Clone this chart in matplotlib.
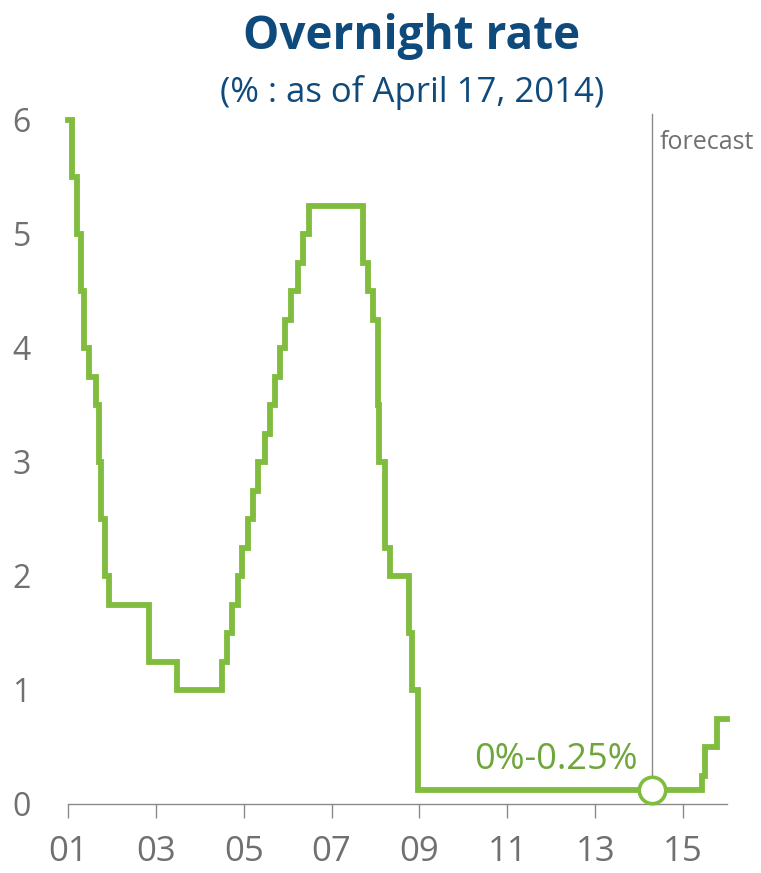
import matplotlib
matplotlib.use('Agg')
import matplotlib.pyplot as plt
import pandas as pd

# Policy rate changes (effective date, level in %), then forecast steps
change_dates = ['2001-01-01', '2001-01-31', '2001-03-20', '2001-04-18', '2001-05-15',
                '2001-06-27', '2001-08-21', '2001-09-17', '2001-10-02', '2001-11-06',
                '2001-12-11', '2002-11-06', '2003-06-25', '2004-06-30', '2004-08-10',
                '2004-09-21', '2004-11-10', '2004-12-14', '2005-02-02', '2005-03-22',
                '2005-05-03', '2005-06-30', '2005-08-09', '2005-09-20', '2005-11-01',
                '2005-12-13', '2006-01-31', '2006-03-28', '2006-05-10', '2006-06-29',
                '2007-09-18', '2007-10-31', '2007-12-11', '2008-01-22', '2008-01-30',
                '2008-03-18', '2008-04-30', '2008-10-08', '2008-10-29', '2008-12-16',
                '2015-06-05', '2015-07-01', '2015-10-07', '2015-12-31']
rate_levels = [6.0, 5.5, 5.0, 4.5, 4.0,
               3.75, 3.5, 3.0, 2.5, 2.0,
               1.75, 1.25, 1.0, 1.25, 1.5,
               1.75, 2.0, 2.25, 2.5, 2.75,
               3.0, 3.25, 3.5, 3.75, 4.0,
               4.25, 4.5, 4.75, 5.0, 5.25,
               4.75, 4.5, 4.25, 3.5, 3.0,
               2.25, 2.0, 1.5, 1.0, 0.125,
               0.25, 0.5, 0.75, 0.75]

forecast_start = '2014-04-17'
zero_band_mid = 0.125
year_ticks = [2001, 2003, 2005, 2007, 2009, 2011, 2013, 2015]
year_labels = ['01', '03', '05', '07', '09', '11', '13', '15']


def to_decimal_year(s):
    d = pd.Timestamp(s)
    return d.year + (d.dayofyear - 1) / 365.25


x = [to_decimal_year(d) for d in change_dates]
x_fc = to_decimal_year(forecast_start)

green = '#80bd3e'
navy = '#0f4a7c'
grey = '#707070'

plt.rcParams['font.family'] = ['Open Sans', 'DejaVu Sans']

fig = plt.figure(figsize=(7.61, 8.73), dpi=100)
ax = fig.add_axes([68 / 761, 69 / 873, 659 / 761, 684 / 873])

ax.step(x, rate_levels, where='post', color=green, lw=4.2, clip_on=False,
        solid_joinstyle='miter', zorder=3)

# forecast divider and marker
ax.plot([x_fc, x_fc], [0, 6.05], color='#8a8a8a', lw=1.0, clip_on=False, zorder=2)
ax.text(x_fc + 0.18, 5.8, 'forecast', color=grey, fontsize=18, ha='left', va='center')
ax.plot([x_fc], [zero_band_mid], 'o', ms=19, mfc='white', mec=green, mew=2.6,
        clip_on=False, zorder=4)
ax.text(x_fc - 0.33, zero_band_mid + 0.1, '0%-0.25%', color='#6fa63a', fontsize=26,
        ha='right', va='bottom')

ax.set_xlim(2001, 2016)
ax.set_ylim(0, 6)
ax.set_xticks(year_ticks)
ax.set_xticklabels(year_labels)
ax.set_yticks(range(0, 7))

for s in ['top', 'right', 'left']:
    ax.spines[s].set_visible(False)
ax.spines['bottom'].set_color('#8a8a8a')
ax.spines['bottom'].set_linewidth(1.0)

ax.tick_params(axis='x', length=10, width=1.0, color='#8a8a8a', direction='out',
               labelsize=25, labelcolor=grey, pad=12)
ax.tick_params(axis='y', length=0, labelsize=23, labelcolor=grey, pad=40)
for lbl in ax.get_yticklabels():
    lbl.set_horizontalalignment('left')

fig.text(412 / 761, 1 - 37 / 873, 'Overnight rate', color=navy, fontsize=33,
         fontweight='bold', ha='center', va='center')
fig.text(412 / 761, 1 - 92 / 873, '(% : as of April 17, 2014)', color=navy,
         fontsize=25, ha='center', va='center')

fig.savefig('out.png', dpi=100)
